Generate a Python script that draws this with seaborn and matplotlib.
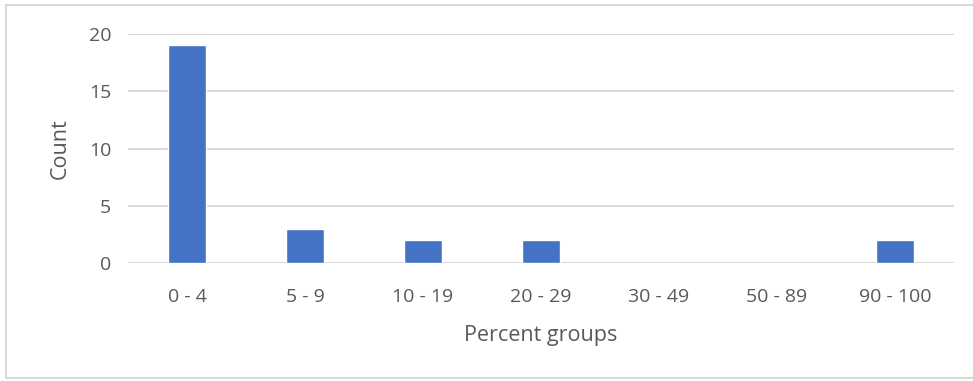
import matplotlib
matplotlib.use("Agg")
import matplotlib.pyplot as plt
import seaborn as sns
import pandas as pd
from matplotlib.patches import Rectangle

# Counts per percent group
groups = ["0 - 4", "5 - 9", "10 - 19", "20 - 29", "30 - 49", "50 - 89", "90 - 100"]
counts = [19, 3, 2, 2, 0, 0, 2]
y_ticks = [0, 5, 10, 15, 20]

df = pd.DataFrame({"group": groups, "count": counts})

sns.set_theme(style="white")
plt.rcParams["font.family"] = ["Open Sans", "DejaVu Sans"]

text_color = "#595959"
grid_color = "#D9D9D9"
bar_color = "#4472C4"

fig = plt.figure(figsize=(9.73, 3.81), dpi=100)
ax = fig.add_axes([128 / 973, 1 - 263 / 381, (954 - 128) / 973, (263 - 34) / 381])

sns.barplot(data=df, x="group", y="count", color=bar_color, width=0.32,
            saturation=1, ax=ax, zorder=3)

ax.set_ylim(0, 20)
ax.set_xlim(-0.5, len(groups) - 0.5)
ax.set_yticks(y_ticks)
for y in y_ticks:
    ax.axhline(y, color=grid_color, lw=1.5, zorder=1)

for s in ax.spines.values():
    s.set_visible(False)
ax.tick_params(axis="both", length=0, colors=text_color, labelsize=14)
ax.tick_params(axis="x", pad=18)
ax.tick_params(axis="y", pad=12)

ax.set_xlabel("Percent groups", color=text_color, fontsize=15.5, labelpad=14)
ax.set_ylabel("Count", color=text_color, fontsize=15.5, labelpad=13)

# chart area frame
fig.patches.append(Rectangle((6 / 973, 3 / 381), 1.0, 1 - 8 / 381,
                             transform=fig.transFigure, fill=False,
                             edgecolor=grid_color, lw=1.5))

fig.savefig("out.png", dpi=100)
